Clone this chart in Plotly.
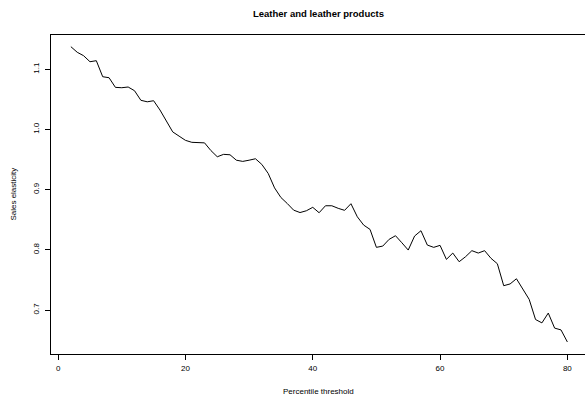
import plotly.graph_objects as go

threshold = list(range(2, 81))
elasticity = [
    1.1376, 1.1283, 1.1226, 1.1126, 1.1143, 1.0877, 1.0860, 1.0700, 1.0694, 1.0706,
    1.0644, 1.0485, 1.0460, 1.0478, 1.0324, 1.0140, 0.9960, 0.9890, 0.9820, 0.9787,
    0.9780, 0.9778, 0.9650, 0.9547, 0.9587, 0.9580, 0.9490, 0.9470, 0.9490, 0.9514,
    0.9420, 0.9270, 0.9030, 0.8870, 0.8770, 0.8660, 0.8620, 0.8650, 0.8707, 0.8617,
    0.8733, 0.8733, 0.8690, 0.8657, 0.8767, 0.8550, 0.8412, 0.8340, 0.8042, 0.8063,
    0.8175, 0.8235, 0.8118, 0.7997, 0.8230, 0.8318, 0.8080, 0.8042, 0.8075, 0.7842,
    0.7947, 0.7803, 0.7886, 0.7987, 0.7947, 0.7987, 0.7860, 0.7770, 0.7405, 0.7434,
    0.7520, 0.7360, 0.7178, 0.6843, 0.6787, 0.6950, 0.6700, 0.6670, 0.6470,
]
x_ticks = [0, 20, 40, 60, 80]
y_ticks = [0.7, 0.8, 0.9, 1.0, 1.1]
y_tick_labels = ["0.7", "0.8", "0.9", "1.0", "1.1"]

FONT = "Liberation Sans, Arial, Helvetica, sans-serif"

fig = go.Figure()
fig.add_trace(go.Scatter(x=threshold, y=elasticity, mode="lines",
                         line=dict(color="black", width=1), hoverinfo="skip",
                         showlegend=False))

fig.update_layout(
    width=585, height=401,
    margin=dict(l=51, r=0, t=35, b=47),
    paper_bgcolor="white", plot_bgcolor="white",
    font=dict(family=FONT, size=8, color="black"),
    xaxis=dict(range=[-1.12, 82.77], tickvals=x_ticks, ticks="outside",
               ticklen=5, tickwidth=1, tickcolor="black", showgrid=False,
               zeroline=False, showline=True, linecolor="black", linewidth=1,
               mirror=True, tickfont=dict(size=8), ticklabelstandoff=1),
    yaxis=dict(range=[0.627, 1.157], tickvals=y_ticks, ticktext=y_tick_labels,
               ticks="outside", ticklen=5, tickwidth=1, tickcolor="black",
               showgrid=False, zeroline=False, showline=True, linecolor="black",
               linewidth=1, tickangle=-90, tickfont=dict(size=8),
               ticklabelstandoff=3),
    annotations=[
        dict(text="<b>Leather and leather products</b>",
             x=(318 - 51) / 534, y=1 + (35 - 14) / 319,
             xref="paper", yref="paper", showarrow=False,
             font=dict(size=9.5), xanchor="center", yanchor="middle"),
        dict(text="Percentile threshold", x=0.5, y=-0.117, xref="paper",
             yref="paper", showarrow=False, font=dict(size=8),
             xanchor="center", yanchor="middle"),
        dict(text="Sales elasticity", x=-0.071, y=0.5, xref="paper",
             yref="paper", showarrow=False, font=dict(size=8), textangle=-90,
             xanchor="center", yanchor="middle"),
    ],
)
fig.write_html("out.html")
